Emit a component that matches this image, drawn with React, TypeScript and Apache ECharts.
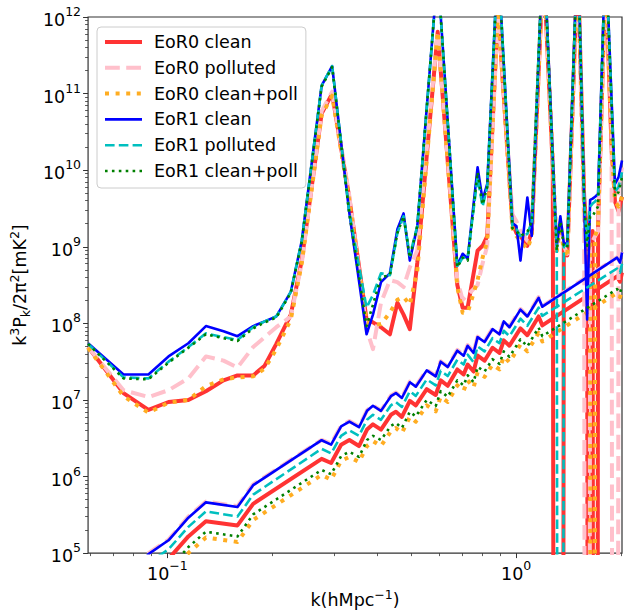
import React, { useEffect, useRef } from "react";
import * as echarts from "echarts";

// ---------- axis limits ----------
const X_MIN = 0.0592;
const X_MAX = 2.012;
const Y_MIN = 1e5;
const Y_MAX = 1e12;
// non-positive bins (matplotlib clips them to the bottom of a log axis)
const DROP = 1e-30;

const xMajorTicks = [0.1, 1];
const yMajorTicks = [1e5, 1e6, 1e7, 1e8, 1e9, 1e10, 1e11, 1e12];

const seriesNames = [
  "EoR0 clean",
  "EoR0 polluted",
  "EoR0 clean+poll",
  "EoR1 clean",
  "EoR1 polluted",
  "EoR1 clean+poll",
];

// ---------- upper (signal) curves ----------
const upperK = [
  0.0592, 0.0748, 0.0882, 0.1007, 0.1148, 0.1289, 0.1448, 0.1588, 0.1761, 0.19,
  0.2052, 0.2258, 0.2427, 0.2768, 0.2967, 0.3319, 0.3724, 0.3885, 0.4096, 0.4345,
  0.4565, 0.4755, 0.4956, 0.5206, 0.5958, 0.6781, 0.7024, 0.726, 0.7752, 0.8012,
  0.8263, 0.887, 0.9759, 1.002, 1.029, 1.077, 1.109, 1.197, 1.274, 1.308,
  1.339, 1.37, 1.402, 1.502, 1.567, 1.598, 1.63, 1.657, 1.685, 1.718,
  1.805, 1.878, 1.921, 1.967, 2.012,
];
const eor0CleanUpper = [
  4.9e7, 1.23e7, 7.4e6, 9.4e6, 1.0e7, 1.3e7, 1.8e7, 2.09e7, 2.09e7, 2.8e7,
  5.4e7, 1.3e8, 6.6e8, 5.5e10, 1.0e11, 4.5e9, 1.12e8, 1.03e8, 8.9e7, 7.2e7,
  1.86e8, 1.3e8, 8.4e7, 6.2e8, 6.4e11, 3.16e8, 1.6e8, 1.6e8, 8.9e8, 1.03e9,
  1.38e9, 1.23e12, 2.03e9, 1.51e9, 1.38e9, 1.03e9, 1.6e9, 5.4e12, 1.09e10, DROP,
  DROP, 1.03e9, 7.7e8, 5.4e12, 4.5e9, 1.38e9, DROP, 1.6e9, DROP, 1.86e9,
  4.0e12, 1.97e10, 3.9e9, 2.9e9, 4.5e9,
];
const eor0PollutedUpper = [
  4.9e7, 1.34e7, 1.09e7, 1.34e7, 1.91e7, 3.7e7, 3.26e7, 2.65e7, 4.9e7, 6.6e7,
  8.9e7, 1.23e8, 6.05e8, 5.9e10, 1.06e11, 4.8e9, 8.4e7, 4.6e7, 1.86e8, 3.66e8,
  3.45e8, 2.98e8, 5.4e8, 8.9e8, 6.4e11, 3.66e8, 2.03e8, 2.35e8, 3.16e8, 6.05e8,
  1.03e9, 1.23e12, 2.65e9, 2.15e9, 1.6e9, 1.19e9, 1.86e9, 5.4e12, 1.27e10, 8.9e8,
  2.15e9, 1.03e9, 8.1e8, 5.4e12, 1.86e9, DROP, 1.03e9, 1.19e9, 1.38e9, 1.6e9,
  4.0e12, 3.56e10, DROP, 6.05e9, 1.09e10,
];
const eor0BothUpper = [
  4.8e7, 1.12e7, 6.8e6, 9.2e6, 1.0e7, 1.51e7, 1.86e7, 1.97e7, 2.03e7, 2.57e7,
  4.6e7, 1.12e8, 6.05e8, 5.2e10, 9.4e10, 4.1e9, 1.03e8, 9.7e7, 9.7e7, 1.38e8,
  2.03e8, 2.22e8, 1.75e8, 4.9e8, 6.4e11, 2.98e8, 1.38e8, 1.38e8, 3.66e8, 7.2e8,
  1.19e9, 1.23e12, 1.75e9, 1.38e9, 1.19e9, 9.4e8, 1.38e9, 5.4e12, 1.27e10, 8.9e8,
  1.86e9, 8.9e8, 7.2e8, 5.4e12, 3.35e9, 7.7e8, 1.19e9, DROP, 1.38e9, 1.86e9,
  4.0e12, 1.97e10, 3.9e9, 3.35e9, 4.5e9,
];
const eor1CleanUpper = [
  5.5e7, 2.15e7, 2.15e7, 3.7e7, 5.5e7, 9.2e7, 7.9e7, 6.8e7, 9.2e7, 1.06e8,
  1.23e8, 2.57e8, 1.19e9, 1.27e11, 2.29e11, 2.9e9, 7.2e7, 1.3e8, 3.45e8, 4.5e8,
  1.7e9, 2.73e9, 6.6e8, 1.86e9, 4.0e12, 5.7e8, 8.1e8, 7.0e8, 1.09e10, 4.1e9,
  6.6e9, 6.2e12, 2.03e9, 1.86e9, 6.6e8, 4.4e9, 1.38e9, 1.12e13, 1.47e10, 1.03e9,
  2.5e9, 1.12e9, 1.09e9, 1.03e13, 3.9e9, 1.12e8, 4.1e9, 4.25e9, 4.5e9, 4.9e9,
  8.4e12, 8.6e10, 6.6e9, 8.1e9, 1.34e10,
];
const eor1PollutedUpper = [
  5.4e7, 1.97e7, 1.91e7, 3.16e7, 4.9e7, 7.4e7, 6.6e7, 6.05e7, 8.9e7, 1.06e8,
  1.23e8, 2.57e8, 1.19e9, 1.27e11, 2.29e11, 2.9e9, 1.6e8, 2.35e8, 4.5e8, 4.25e8,
  1.51e9, 2.5e9, 7.7e8, 1.86e9, 4.0e12, 5.4e8, 7.2e8, 7.2e8, 8.1e9, 3.35e9,
  6.05e9, 6.2e12, 1.86e9, 1.7e9, 1.38e9, 1.47e9, 2.15e9, 1.12e13, 1.27e10, 8.9e8,
  DROP, 1.03e9, 1.03e9, 1.03e13, 3.9e9, 1.19e9, 3.35e9, 3.66e9, 3.9e9, 4.5e9,
  8.4e12, 7.4e10, 5.2e9, 6.05e9, 9.4e9,
];
const eor1BothUpper = [
  5.4e7, 1.91e7, 1.86e7, 3.07e7, 4.8e7, 7.2e7, 6.4e7, 5.9e7, 8.6e7, 1.03e8,
  1.19e8, 2.5e8, 1.16e9, 1.23e11, 2.22e11, 2.8e9, 9.2e7, 1.75e8, 4.0e8, 4.25e8,
  1.51e9, 2.5e9, 7.2e8, 1.86e9, 4.0e12, 5.4e8, 7.2e8, 6.6e8, 9.4e9, 3.56e9,
  6.05e9, 6.2e12, 1.75e9, 1.6e9, 1.38e9, 1.56e9, 2.15e9, 1.12e13, 1.27e10, 8.9e8,
  2.15e9, 1.03e9, 9.7e8, 1.03e13, 3.9e9, 1.03e9, 2.5e9, 2.5e9, 2.9e9, 3.35e9,
  8.4e12, 7.4e10, 4.5e9, 5.2e9, 8.1e9,
];

// ---------- lower (noise) curves ----------
const lowerK = [
  0.0748, 0.0882, 0.1007, 0.1148, 0.1289, 0.1588, 0.1761, 0.2768, 0.2947, 0.3148,
  0.3325, 0.3543, 0.3735, 0.3885, 0.4096, 0.4374, 0.452, 0.4702, 0.4956, 0.5155,
  0.5541, 0.588, 0.6077, 0.6364, 0.6781, 0.707, 0.726, 0.7551, 0.7752, 0.8118,
  0.8556, 0.896, 0.9217, 0.9569, 1.029, 1.077, 1.16, 1.189, 1.947, 1.986, 2.012,
];
const eor0CleanLower = [
  1.9e4, 5.5e4, 8.4e4, 1.65e5, 2.6e5, 2.3e5, 4.4e5, 1.7e6, 1.5e6, 2.6e6,
  3.0e6, 2.5e6, 4.1e6, 4.8e6, 4.1e6, 6.4e6, 7.0e6, 6.0e6, 9.7e6, 8.5e6,
  1.38e7, 1.16e7, 1.8e7, 1.53e7, 2.5e7, 2.15e7, 2.9e7, 2.35e7, 3.8e7, 3.25e7,
  4.8e7, 4.1e7, 6.0e7, 5.1e7, 8.6e7, 7.0e7, 1.23e8, 9.4e7, 4.1e8, 3.5e8, 4.6e8,
];
const eor0PollutedLower = [
  3.5e4, 1.0e5, 1.5e5, 3.0e5, 4.7e5, 4.1e5, 7.9e5, 3.0e6, 2.7e6, 4.6e6,
  5.3e6, 4.5e6, 7.3e6, 8.5e6, 7.3e6, 1.14e7, 1.25e7, 1.08e7, 1.73e7, 1.52e7,
  2.47e7, 2.07e7, 3.2e7, 2.74e7, 4.5e7, 3.85e7, 5.2e7, 4.2e7, 6.7e7, 5.8e7,
  8.6e7, 7.3e7, 1.08e8, 9.1e7, 1.54e8, 1.25e8, 2.2e8, 1.68e8, 7.3e8, 6.3e8, 8.6e8,
];
const eor0BothLower = [
  1.2e4, 3.4e4, 5.1e4, 1.0e5, 1.6e5, 1.4e5, 2.7e5, 1.05e6, 9.1e5, 1.6e6,
  1.8e6, 1.55e6, 2.5e6, 2.9e6, 2.5e6, 3.9e6, 4.3e6, 3.7e6, 6.0e6, 5.2e6,
  8.5e6, 7.1e6, 1.1e7, 9.4e6, 1.55e7, 1.32e7, 1.8e7, 1.45e7, 2.3e7, 2.0e7,
  2.9e7, 2.5e7, 3.7e7, 3.1e7, 5.3e7, 4.3e7, 7.5e7, 5.8e7, 2.5e8, 2.2e8, 2.7e8,
];
const eor1CleanLower = [
  3.4e4, 9.7e4, 1.47e5, 2.9e5, 4.6e5, 4.0e5, 7.7e5, 2.98e6, 2.61e6, 4.5e6,
  5.2e6, 4.4e6, 7.2e6, 8.4e6, 7.2e6, 1.12e7, 1.23e7, 1.06e7, 1.7e7, 1.49e7,
  2.43e7, 2.03e7, 3.16e7, 2.69e7, 4.4e7, 3.78e7, 5.1e7, 4.1e7, 6.6e7, 5.7e7,
  8.4e7, 7.2e7, 1.06e8, 8.9e7, 1.51e8, 1.23e8, 2.15e8, 1.65e8, 7.2e8, 6.2e8, 8.4e8,
];
const eor1PollutedLower = [
  2.6e4, 7.4e4, 1.12e5, 2.2e5, 3.5e5, 3.0e5, 5.8e5, 2.3e6, 2.0e6, 3.4e6,
  4.0e6, 3.4e6, 5.5e6, 6.4e6, 5.5e6, 8.5e6, 9.4e6, 8.1e6, 1.3e7, 1.13e7,
  1.85e7, 1.55e7, 2.4e7, 2.05e7, 3.35e7, 2.9e7, 3.9e7, 3.1e7, 5.0e7, 4.3e7,
  6.4e7, 5.5e7, 8.0e7, 6.8e7, 1.15e8, 9.3e7, 1.6e8, 1.25e8, 5.2e8, 4.6e8, 6.0e8,
];
const eor1BothLower = [
  1.4e4, 4.0e4, 6.0e4, 1.2e5, 1.9e5, 1.65e5, 3.2e5, 1.22e6, 1.07e6, 1.85e6,
  2.1e6, 1.8e6, 3.0e6, 3.4e6, 3.0e6, 4.6e6, 5.0e6, 4.3e6, 7.0e6, 6.1e6,
  1.0e7, 8.3e6, 1.3e7, 1.1e7, 1.8e7, 1.55e7, 2.1e7, 1.7e7, 2.7e7, 2.35e7,
  3.4e7, 2.95e7, 4.3e7, 3.65e7, 6.2e7, 5.0e7, 8.8e7, 6.8e7, 2.8e8, 2.5e8, 3.1e8,
];

const upperSets = [eor0CleanUpper, eor0PollutedUpper, eor0BothUpper, eor1CleanUpper, eor1PollutedUpper, eor1BothUpper];
const lowerSets = [eor0CleanLower, eor0PollutedLower, eor0BothLower, eor1CleanLower, eor1PollutedLower, eor1BothLower];

// ---------- styles ----------
const lineStyles: any[] = [
  { color: "#ff3333", width: 4, type: "solid" },
  { color: "#ffc0cb", width: 4, type: [14.8, 6.4] },
  { color: "#ffad22", width: 4, type: [4, 6.6] },
  { color: "#0000ff", width: 2.6, type: "solid" },
  { color: "#00bfbf", width: 2.6, type: [9.6, 4.2] },
  { color: "#008000", width: 2.6, type: [2.6, 4.3] },
];

const FONT = "DejaVu Sans";
const lg = (v: number) => Math.log10(v);
const toXY = (ks: number[], ps: number[]) => ks.map((k, i) => [lg(k), lg(ps[i])]);

const expLabel = (v: number) => {
  const e = Math.round(v);
  return "{b|10}{s|" + (e < 0 ? "\u2212" + -e : String(e)) + "}";
};
const tickRich = {
  b: { fontFamily: FONT, fontSize: 17.5, color: "#000", lineHeight: 24, verticalAlign: "bottom" },
  s: { fontFamily: FONT, fontSize: 12.5, color: "#000", lineHeight: 14, verticalAlign: "top" },
};
const nameRich = {
  n: { fontFamily: FONT, fontSize: 17.5, color: "#000", lineHeight: 24, verticalAlign: "middle" },
  sup: { fontFamily: FONT, fontSize: 12.5, color: "#000", lineHeight: 14, verticalAlign: "top" },
  sub: { fontFamily: FONT, fontSize: 12.5, color: "#000", lineHeight: 13, verticalAlign: "bottom" },
};

function minorTicks(lo: number, hi: number, d0: number, d1: number) {
  const out: number[] = [];
  for (let d = d0; d <= d1; d++) {
    for (let m = 2; m <= 9; m++) {
      const v = m * Math.pow(10, d);
      if (v > lo && v < hi) out.push(lg(v));
    }
  }
  return out;
}

const AX = "#333";

export default function App() {
  const ref = useRef<HTMLDivElement>(null);
  useEffect(() => {
    if (!ref.current) return;
    const chart = echarts.init(ref.current, null, { renderer: "svg", width: 630, height: 614 });
    const series: any[] = [];
    seriesNames.forEach((name, i) => {
      const ls = { ...lineStyles[i], cap: "butt", join: "round" };
      series.push({
        type: "line", name, data: toXY(upperK, upperSets[i]), symbol: "none",
        lineStyle: ls, itemStyle: { color: ls.color }, clip: true, silent: true,
      });
      series.push({
        type: "line", name, data: toXY(lowerK, lowerSets[i]), symbol: "none",
        lineStyle: ls, itemStyle: { color: ls.color }, clip: true, silent: true,
      });
    });
    const xMin = lg(X_MIN), xMax = lg(X_MAX), yMin = lg(Y_MIN), yMax = lg(Y_MAX);
    const hiddenLine = { show: false, onZero: false };
    const option: any = {
      animation: false,
      backgroundColor: "#fff",
      grid: { left: 86, top: 17, width: 536, height: 546, show: true, borderColor: AX, borderWidth: 1.2, backgroundColor: "transparent" },
      legend: {
        orient: "vertical", left: 97, top: 27,
        padding: [5, 8, 7, 6],
        itemWidth: 37, itemHeight: 14, itemGap: 5.8,
        backgroundColor: "rgba(255,255,255,0.8)", borderColor: "#cccccc", borderWidth: 1, borderRadius: 4,
        selectedMode: false,
        textStyle: { fontFamily: FONT, fontSize: 17.5, color: "#000", lineHeight: 20, padding: [0, 0, 0, 7] },
        data: seriesNames.map((n, i) => ({
          name: n,
          itemStyle: { opacity: 0 },
          lineStyle: { color: lineStyles[i].color, width: lineStyles[i].width, type: lineStyles[i].type, cap: "butt" },
        })),
      },
      xAxis: [
        {
          type: "value", min: xMin, max: xMax, position: "bottom",
          axisLine: hiddenLine, splitLine: { show: false },
          axisTick: { show: true, customValues: xMajorTicks.map(lg), length: 5, lineStyle: { color: AX, width: 1 } },
          axisLabel: { customValues: xMajorTicks.map(lg), formatter: expLabel, rich: tickRich, margin: 6 },
          name: "{n|k(hMpc}{sup|\u22121}{n|)}", nameLocation: "middle", nameGap: 31,
          nameTextStyle: { rich: nameRich },
        },
        {
          type: "value", min: xMin, max: xMax, position: "bottom",
          axisLine: hiddenLine, splitLine: { show: false },
          axisTick: { show: true, customValues: minorTicks(X_MIN, X_MAX, -2, 0), length: 3, lineStyle: { color: AX, width: 0.8 } },
          axisLabel: { show: false },
        },
      ],
      yAxis: [
        {
          type: "value", min: yMin, max: yMax, position: "left",
          axisLine: hiddenLine, splitLine: { show: false },
          axisTick: { show: true, customValues: yMajorTicks.map(lg), length: 5, lineStyle: { color: AX, width: 1 } },
          axisLabel: { customValues: yMajorTicks.map(lg), formatter: expLabel, rich: tickRich, margin: 7 },
          name: "{n|k}{sup|3}{n|P}{sub|k}{n|/2\u03c0}{sup|2}{n|[mK}{sup|2}{n|]}",
          nameLocation: "middle", nameRotate: 90, nameGap: 48,
          nameTextStyle: { rich: nameRich },
        },
        {
          type: "value", min: yMin, max: yMax, position: "left",
          axisLine: hiddenLine, splitLine: { show: false },
          axisTick: { show: true, customValues: minorTicks(Y_MIN, Y_MAX, 5, 11), length: 3, lineStyle: { color: AX, width: 0.8 } },
          axisLabel: { show: false },
        },
      ],
      series,
    };
    chart.setOption(option);
    return () => chart.dispose();
  }, []);
  return <div ref={ref} style={{ position: "absolute", left: 0, top: 0, width: 630, height: 614 }} />;
}
